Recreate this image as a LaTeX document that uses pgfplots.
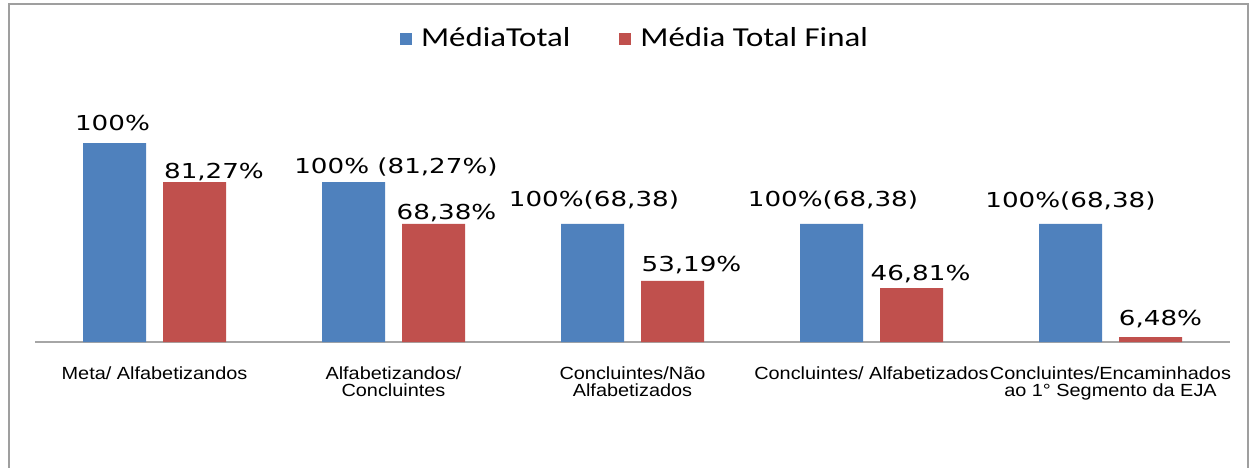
\documentclass[border=0pt]{standalone}
\usepackage{pgfplots}
\pgfplotsset{compat=1.18}
\usepackage{pgfplotstable}
\usepackage{fontspec}
\setmainfont{Liberation Sans}
\newfontfamily\lblfont[FakeStretch=1.27]{DejaVu Sans}
\newfontfamily\legfont[FakeStretch=1.2]{Carlito}
\newfontfamily\ticfont[FakeStretch=1.13]{Liberation Sans}

\definecolor{exblue}{HTML}{4F81BD}
\definecolor{exred}{HTML}{C0504D}

% x, bar height, label shifts (pt), label
\pgfplotstableread[col sep=semicolon]{
x;y;dx;dy;lab
0;100;-1;6.5;{100\%}
1;80.4;21.25;4.5;{100\% (81,27\%)}
2;59.3;0.75;8.5;{100\%(68,38)}
3;59.3;0.75;8.5;{100\%(68,38)}
4;59.3;0;8;{100\%(68,38)}
}\mediatotal

\pgfplotstableread[col sep=semicolon]{
x;y;dx;dy;lab
0;80.4;9.75;2;{81,27\%}
1;59.3;6.5;2;{68,38\%}
2;30.7;9.5;4.5;{53,19\%}
3;27.1;4.5;4;{46,81\%}
4;2.5;5;6;{6,48\%}
}\mediafinal

\begin{document}
\begin{tikzpicture}
\clip (0,0) rectangle (627pt,233.5pt);
\path[use as bounding box] (0,0) rectangle (627pt,233.5pt);
\draw[gray!75, line width=1.3pt] (4.5pt,-20pt) -- (4.5pt,231.5pt) -- (624pt,231.5pt) -- (624pt,-20pt);
\begin{axis}[
    at={(17.5pt,62.5pt)}, anchor=south west,
    scale only axis,
    width=597.5pt, height=99.5pt,
    ybar=8.5pt, bar width=31.5pt,
    xmin=-0.5, xmax=4.5,
    ymin=0, ymax=100,
    clip=false,
    axis x line*=bottom,
    axis y line=none,
    axis line style={gray!70, line width=0.6pt},
    x axis line style={-},
    xtick={0,1,2,3,4},
    xticklabels={Meta/ Alfabetizandos, {Alfabetizandos/\\Concluintes}, {Concluintes/Não\\Alfabetizados}, Concluintes/ Alfabetizados, {Concluintes/Encaminhados\\ao 1° Segmento da EJA}},
    major tick length=0pt,
    xticklabel style={align=center, anchor=north, inner sep=0pt, yshift=-12pt,
        font={\ticfont\fontsize{8.8}{8.5}\selectfont}},
    point meta=explicit symbolic,
    nodes near coords,
    visualization depends on={\thisrow{dx}\as\dx},
    visualization depends on={\thisrow{dy}\as\dy},
    nodes near coords style={anchor=base, inner sep=0pt, xshift=\dx, yshift=\dy,
        font={\lblfont\fontsize{10.3}{12}\selectfont}, text=black},
    legend style={at={(0.505,1.523)}, anchor=center, draw=none, fill=none,
        legend columns=2, font={\legfont\fontsize{13.7}{15}\selectfont},
        nodes={inner ysep=3pt, inner xsep=4.5pt},
        /tikz/every even column/.append style={column sep=20pt}},
    legend image code/.code={\fill[#1] (0pt,-3pt) rectangle (6pt,3pt);},
]
\addplot[fill=exblue, draw=none]
    table[x=x, y=y, meta=lab]{\mediatotal};
\addlegendentry{MédiaTotal}
\addplot[fill=exred, draw=none]
    table[x=x, y=y, meta=lab]{\mediafinal};
\addlegendentry{Média Total Final}
\end{axis}
\end{tikzpicture}
\end{document}
